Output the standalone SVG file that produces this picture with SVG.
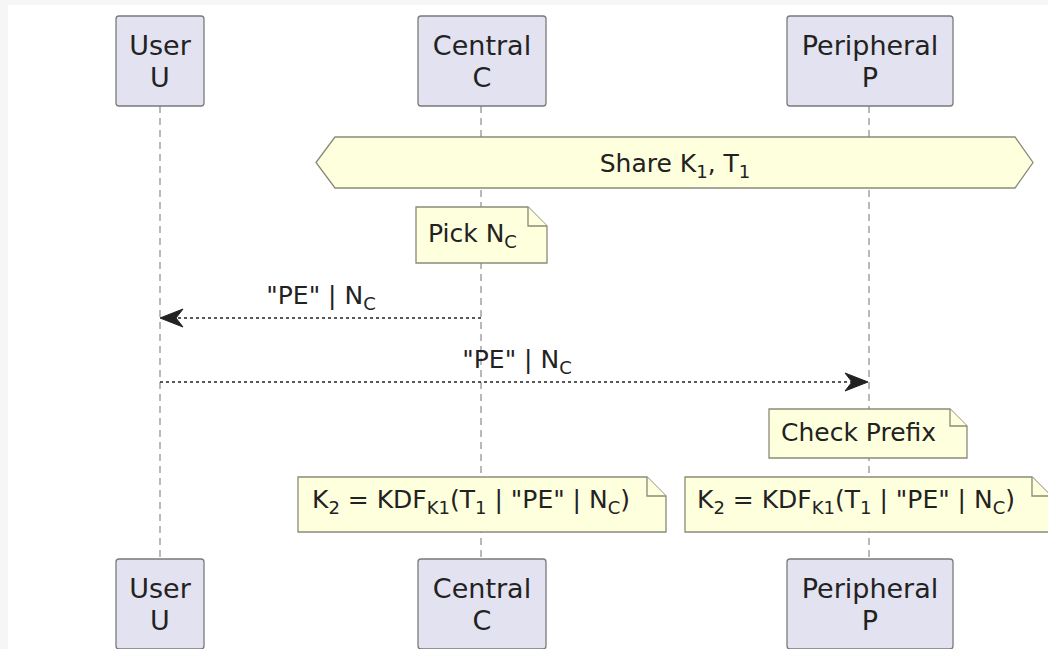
<svg xmlns="http://www.w3.org/2000/svg" width="1048" height="649" viewBox="0 0 1048 649">
<style>
.bg{fill:#f6f6f6}
.part{fill:#E2E2F0;stroke:#7a7a7a;stroke-width:1.3}
.ptxt{font-family:"DejaVu Sans",sans-serif;font-size:27px;fill:#222;text-anchor:middle}
.life{stroke:#8a8a8a;stroke-width:1.2;stroke-dasharray:7,5;fill:none}
.note{fill:#FEFFDD;stroke:#8a8a7a;stroke-width:1.3}
.ntxt{font-family:"DejaVu Sans",sans-serif;font-size:25px;fill:#222}
.mtxt{font-family:"DejaVu Sans",sans-serif;font-size:25px;fill:#222;text-anchor:middle}
.msg{stroke:#222;stroke-width:1.3;stroke-dasharray:3,3;fill:none}
.head{fill:#222;stroke:#222;stroke-width:1}
.sub{font-size:18px}
</style>
<rect class="bg" x="0" y="0" width="1048" height="649"/>
<rect x="8" y="5" width="1040" height="644" fill="#ffffff"/>
<g id="lifelines">
<line class="life" x1="160" y1="106" x2="160" y2="559"/>
<line class="life" x1="481" y1="106" x2="481" y2="559"/>
<line class="life" x1="869" y1="106" x2="869" y2="559"/>
</g>
<g id="user-top">
<rect class="part" x="116" y="16" width="88" height="90" rx="3"/>
<text class="ptxt" x="160" y="55">User</text>
<text class="ptxt" x="160" y="87">U</text>
</g>
<g id="central-top">
<rect class="part" x="418" y="16" width="128" height="90" rx="3"/>
<text class="ptxt" x="482" y="55">Central</text>
<text class="ptxt" x="482" y="87">C</text>
</g>
<g id="peripheral-top">
<rect class="part" x="787" y="16" width="166" height="90" rx="3"/>
<text class="ptxt" x="870" y="55">Peripheral</text>
<text class="ptxt" x="870" y="87">P</text>
</g>
<g id="share">
<polygon class="note" points="316,162.5 335,137 1015,137 1033,162.5 1015,188 335,188"/>
<text class="mtxt" x="675" y="172">Share K<tspan class="sub" dy="6">1</tspan><tspan dy="-6">, T</tspan><tspan class="sub" dy="6">1</tspan></text>
</g>
<g id="note-pick">
<path class="note" d="M416,207 H528 L547,226 V263 H416 Z"/>
<path class="note" d="M528,207 V226 H547" fill="none"/>
<text class="ntxt" x="428" y="242">Pick N<tspan class="sub" dy="6">C</tspan></text>
</g>
<g id="connectors">
<line class="msg" x1="481" y1="318" x2="166" y2="318"/>
<polygon class="head" points="160,318 183,309 176,318 183,327"/>
<text class="mtxt" x="321" y="304">"PE" | N<tspan class="sub" dy="6">C</tspan></text>
<line class="msg" x1="160" y1="382" x2="862" y2="382"/>
<polygon class="head" points="868,382 845,373 852,382 845,391"/>
<text class="mtxt" x="517" y="368">"PE" | N<tspan class="sub" dy="6">C</tspan></text>
</g>
<g id="note-check">
<path class="note" d="M769,409 H950 L967,426 V458 H769 Z"/>
<path class="note" d="M950,409 V426 H967" fill="none"/>
<text class="ntxt" x="781" y="441">Check Prefix</text>
</g>
<g id="note-kdf-c">
<path class="note" d="M298,477 H647 L666,496 V532 H298 Z"/>
<path class="note" d="M647,477 V496 H666" fill="none"/>
<text class="ntxt" x="312" y="508">K<tspan class="sub" dy="6">2</tspan><tspan dy="-6"> = KDF</tspan><tspan class="sub" dy="6">K1</tspan><tspan dy="-6">(T</tspan><tspan class="sub" dy="6">1</tspan><tspan dy="-6"> | "PE" | N</tspan><tspan class="sub" dy="6">C</tspan><tspan dy="-6">)</tspan></text>
</g>
<g id="note-kdf-p">
<path class="note" d="M685,477 H1032 L1051,496 V532 H685 Z"/>
<path class="note" d="M1032,477 V496 H1051" fill="none"/>
<text class="ntxt" x="697" y="508">K<tspan class="sub" dy="6">2</tspan><tspan dy="-6"> = KDF</tspan><tspan class="sub" dy="6">K1</tspan><tspan dy="-6">(T</tspan><tspan class="sub" dy="6">1</tspan><tspan dy="-6"> | "PE" | N</tspan><tspan class="sub" dy="6">C</tspan><tspan dy="-6">)</tspan></text>
</g>
<g id="user-bottom">
<rect class="part" x="116" y="559" width="88" height="90" rx="3"/>
<text class="ptxt" x="160" y="598">User</text>
<text class="ptxt" x="160" y="630">U</text>
</g>
<g id="central-bottom">
<rect class="part" x="418" y="559" width="128" height="90" rx="3"/>
<text class="ptxt" x="482" y="598">Central</text>
<text class="ptxt" x="482" y="630">C</text>
</g>
<g id="peripheral-bottom">
<rect class="part" x="787" y="559" width="166" height="90" rx="3"/>
<text class="ptxt" x="870" y="598">Peripheral</text>
<text class="ptxt" x="870" y="630">P</text>
</g>
</svg>
